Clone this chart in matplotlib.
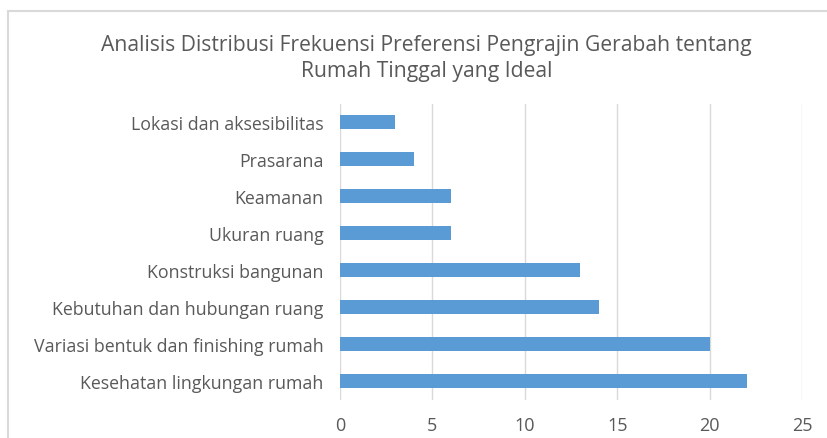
import matplotlib.pyplot as plt
from matplotlib.patches import Rectangle

categories = ["Lokasi dan aksesibilitas", "Prasarana", "Keamanan", "Ukuran ruang",
              "Konstruksi bangunan", "Kebutuhan dan hubungan ruang",
              "Variasi bentuk dan finishing rumah", "Kesehatan lingkungan rumah"]
values = [3, 4, 6, 6, 13, 14, 20, 22]
xticks = [0, 5, 10, 15, 20, 25]

plt.rcParams['font.family'] = ['Open Sans', 'DejaVu Sans']
text_color = '#595959'

fig = plt.figure(figsize=(8.27, 4.39), dpi=100)
# chart border (cut off at right/bottom like the screenshot)
fig.patches.append(Rectangle((8 / 827, -0.1), 1.2, 1.1 - 12 / 439, transform=fig.transFigure,
                             fill=False, edgecolor='#D9D9D9', linewidth=1.5))

ax = fig.add_axes([340 / 827, 1 - 400.5 / 439, (802 - 340) / 827, (400.5 - 104.5) / 439])
pos = list(range(len(categories)))
ax.barh(pos, values, height=0.38, color='#5B9BD5', zorder=3)
ax.set_ylim(len(categories) - 0.5, -0.5)
ax.set_xlim(0, 25)
ax.set_xticks(xticks)
ax.set_yticks(pos)
ax.set_yticklabels(categories)
ax.grid(axis='x', color='#D9D9D9', linewidth=1, zorder=0)
for s in ax.spines.values():
    s.set_visible(False)
ax.tick_params(axis='both', length=0, colors=text_color, labelsize=12.8)
ax.tick_params(axis='x', pad=12, labelsize=13)
ax.tick_params(axis='y', pad=12)

fig.text(426.5 / 827, 1 - 45 / 439, "Analisis Distribusi Frekuensi Preferensi Pengrajin Gerabah tentang",
         ha='center', va='center', fontsize=15.2, color=text_color)
fig.text(426.5 / 827, 1 - 72 / 439, "Rumah Tinggal yang Ideal",
         ha='center', va='center', fontsize=15.2, color=text_color)

fig.savefig('out.png', dpi=100)
